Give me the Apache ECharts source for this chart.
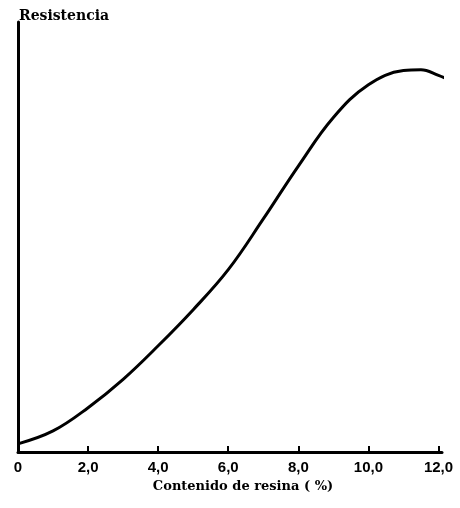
<!DOCTYPE html>
<html>
<head>
<meta charset="utf-8">
<script src="https://cdn.jsdelivr.net/npm/echarts@6/dist/echarts.min.js"></script>
<style>
  html, body { margin: 0; padding: 0; background: #fff; }
  #chart { width: 460px; height: 508px; }
</style>
</head>
<body>
<div id="chart"></div>
<script>
// resin content (%) and strength (relative units)
const resina = [0, 1, 2, 3, 4, 5, 6, 7, 8, 9, 10, 11, 11.5, 12, 12.2];
const resistencia = [1.9, 4.9, 10.3, 16.9, 24.7, 33.1, 42.4, 54.2, 66.5, 77.8, 85.4, 88.7, 88.9, 87.6, 86.9];
const xTicks = [0, 2, 4, 6, 8, 10, 12];

const chart = echarts.init(document.getElementById('chart'));
const option = {
    animation: false,
    title: {
        text: 'Resistencia',
        left: 14,
        top: 4,
        textStyle: { fontFamily: 'DejaVu Serif', fontWeight: 'bold', fontSize: 14, color: '#000' }
    },
    grid: { left: 18, right: 18, top: 22, bottom: 56 },
    xAxis: {
        type: 'value',
        min: 0,
        max: 12.1,
        name: 'Contenido de resina ( %)',
        nameLocation: 'middle',
        nameGap: 23,
        nameTextStyle: { fontFamily: 'DejaVu Serif', fontWeight: 'bold', fontSize: 13, color: '#000', padding: [0, 0, 0, 26] },
        axisLine: { lineStyle: { color: '#000', width: 3 } },
        axisTick: { inside: true, length: 6, lineStyle: { color: '#000', width: 2 }, customValues: xTicks },
        axisLabel: {
            customValues: xTicks,
            margin: 8,
            fontFamily: 'Liberation Sans',
            fontWeight: 'bold',
            fontSize: 15,
            color: '#000',
            formatter: v => v === 0 ? '0' : v.toFixed(1).replace('.', ',')
        },
        splitLine: { show: false }
    },
    yAxis: {
        type: 'value',
        min: 0,
        max: 100,
        axisLine: { show: true, lineStyle: { color: '#000', width: 3 } },
        axisTick: { show: false },
        axisLabel: { show: false },
        splitLine: { show: false }
    },
    series: [{
        type: 'line',
        data: resina.map((x, i) => [x, resistencia[i]]),
        smooth: 0.4,
        showSymbol: false,
        lineStyle: { color: '#000', width: 3 }
    }]
};
chart.setOption(option);
</script>
</body>
</html>
